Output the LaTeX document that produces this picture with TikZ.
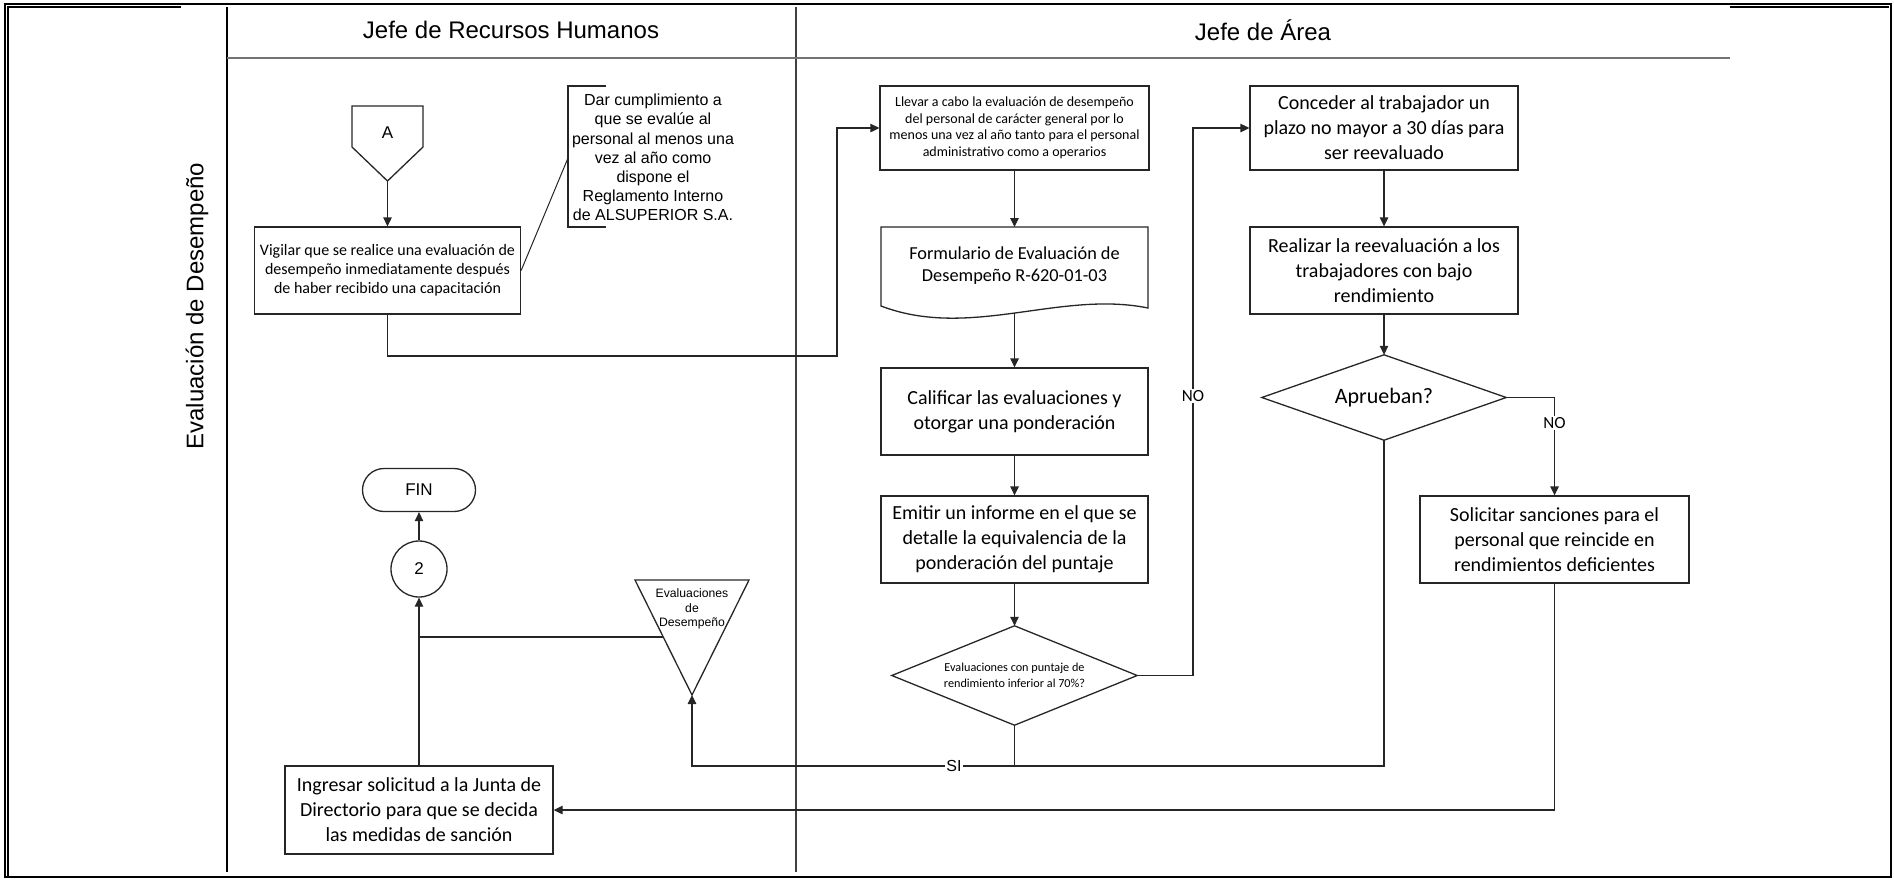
\documentclass[tikz,border=0pt]{standalone}
\usepackage{fontspec}
\setmainfont{Liberation Sans}
\newfontfamily\calib{Carlito}
\usetikzlibrary{arrows.meta}

\begin{document}
\begin{tikzpicture}[x=1pt,y=-1pt,
  box/.style={draw=black!85, line width=1.3pt, fill=white, inner sep=0pt, align=center,
              font=\calib\fontsize{20}{25}\selectfont},
  outline/.style={draw=black!85, line width=1.3pt},
  flow/.style={draw=black!85, line width=1.3pt, -{Triangle[length=9pt,width=8.5pt]}},
  link/.style={draw=black!85, line width=1.3pt},
  lbl/.style={fill=white, inner sep=1.5pt, font=\calib\fontsize{17}{17}\selectfont},
  hdr/.style={font=\fontsize{24}{28}\selectfont},
  plain/.style={inner sep=0pt, align=center},
]
\useasboundingbox (0,0) rectangle (1894,879);

% page frame
\draw[line width=2.5pt] (5,4) -- (1891,4) -- (1891,877) -- (5,877) -- cycle;
\draw[line width=1.2pt] (8,876) -- (8,7) -- (181,7);
\draw[line width=1.2pt] (1730,7) -- (1889,7);

% swimlanes
\draw[line width=1.5pt] (227,7) -- (227,872);
\draw[line width=1.2pt, black!75] (796,7) -- (796,872);
\draw[line width=2pt, black!55] (227,58) -- (1730,58);
\node[hdr] (lane1) at (511,30) {Jefe de Recursos Humanos};
\node[hdr] (lane2) at (1263,30) {Jefe de Área};
\node[hdr, rotate=90] (proc) at (197,306) {Evaluación de Desempeño};

% off-page connector A
\draw[outline] (352,106) -- (423,106) -- (423,147) -- (387.5,181) -- (352,147) -- cycle;
\node[plain, font=\fontsize{17}{20}\selectfont] (conA) at (387.5,133) {A};
\coordinate (Atip) at (387.5,181);

% Jefe de Recursos Humanos
\node[box, minimum width=266, minimum height=87, font=\calib\fontsize{16}{19}\selectfont]
  (vig) at (387.5,270.5) {Vigilar que se realice una evaluación de\\desempeño inmediatamente después\\de haber recibido una capacitación};

% annotation bracket
\draw[outline, line width=1.1pt] (606,86) -- (568,86) -- (568,227) -- (606,227);
\coordinate (brk) at (568,158);
\node[plain, font=\fontsize{16}{19.2}\selectfont] (note) at (653,157.5)
  {Dar cumplimiento a\\que se evalúe al\\personal al menos una\\vez al año como\\dispone el\\Reglamento Interno\\de ALSUPERIOR S.A.};
\draw[link, line width=1pt] (vig.east) -- (brk);

% Jefe de Área, first column
\node[box, minimum width=269, minimum height=84, font=\calib\fontsize{14}{16.5}\selectfont]
  (llev) at (1014.5,128) {Llevar a cabo la evaluación de desempeño\\del personal de carácter general por lo\\menos una vez al año tanto para el personal\\administrativo como a operarios};

% document shape
\draw[outline, fill=white] (881,227) -- (1148,227) -- (1148,308)
   .. controls (1060,290) and (970,340) .. (881,306) -- cycle;
\node[plain, font=\calib\fontsize{18.3}{22}\selectfont] (form) at (1014.5,266)
  {Formulario de Evaluación de\\Desempeño R-620-01-03};
\coordinate (formtop) at (1014.5,227);
\coordinate (formbot) at (1014.5,313);

\node[box, minimum width=267, minimum height=87] (calif) at (1014.5,411.5)
  {Calificar las evaluaciones y\\otorgar una ponderación};
\node[box, minimum width=267, minimum height=87] (emit) at (1014.5,539.5)
  {Emitir un informe en el que se\\detalle la equivalencia de la\\ponderación del puntaje};

\node[plain, minimum width=245, minimum height=99, font=\calib\fontsize{12.2}{15.5}\selectfont]
  (dec) at (1014.5,675.5) {Evaluaciones con puntaje de\\rendimiento inferior al 70\%?};
\draw[outline] (dec.north) -- (dec.east) -- (dec.south) -- (dec.west) -- cycle;

% Jefe de Área, second column
\node[box, minimum width=268, minimum height=84] (conc) at (1384,128)
  {Conceder al trabajador un\\plazo no mayor a 30 días para\\ser reevaluado};
\node[box, minimum width=268, minimum height=87] (reev) at (1384,270.5)
  {Realizar la reevaluación a los\\trabajadores con bajo\\rendimiento};
\node[plain, minimum width=244, minimum height=85, font=\calib\fontsize{22}{26}\selectfont]
  (apr) at (1384,397.5) {Aprueban?};
\draw[outline] (apr.north) -- (apr.east) -- (apr.south) -- (apr.west) -- cycle;
\node[box, minimum width=269, minimum height=87] (sanc) at (1554.5,539.5)
  {Solicitar sanciones para el\\personal que reincide en\\rendimientos deficientes};

% closing column
\node[box, minimum width=268, minimum height=88] (ingr) at (419,810)
  {Ingresar solicitud a la Junta de\\Directorio para que se decida\\las medidas de sanción};
\node[draw=black!85, line width=1.3pt, circle, minimum size=56, inner sep=0pt,
      font=\fontsize{17}{20}\selectfont] (c2) at (419,569) {2};
\node[draw=black!85, line width=1.3pt, rounded corners=21.5pt, minimum width=113,
      minimum height=43, inner sep=0pt, font=\fontsize{17}{20}\selectfont] (fin) at (419,490) {FIN};

% storage triangle
\draw[outline] (635,580) -- (749,580) -- (692,695) -- cycle;
\node[plain, font=\fontsize{12.2}{14.7}\selectfont] (store) at (692,609)
  {Evaluaciones\\de\\Desempeño};
\coordinate (stip) at (692,695);
\coordinate (sleft) at (663,637);
\coordinate (sjoin) at (419,637);

% routing points
\coordinate (r1) at (837,356);
\coordinate (n1) at (1193,675.5);
\coordinate (j1) at (1014.5,766);

% connectors
\draw[flow] (Atip) -- (vig.north);
\draw[flow] (vig.south) |- (r1) |- (llev.west);
\draw[flow] (llev.south) -- (formtop);
\draw[flow] (formbot) -- (calif.north);
\draw[flow] (calif.south) -- (emit.north);
\draw[flow] (emit.south) -- (dec.north);
\draw[flow] (dec.east) -- (n1) |- (conc.west);
\draw[flow] (conc.south) -- (reev.north);
\draw[flow] (reev.south) -- (apr.north);
\draw[flow] (apr.east) -| (sanc.north);
\draw[link] (apr.south) |- (j1);
\draw[flow] (dec.south) -- (j1) -| (stip);
\draw[flow] (sanc.south) |- (ingr.east);
\draw[link] (sleft) -- (sjoin);
\draw[flow] (ingr.north) -- (c2.south);
\draw[flow] (c2.north) -- (fin.south);

% connector labels
\node[lbl] (no1) at (1193,396) {NO};
\node[lbl] (no2) at (1554.5,423) {NO};
\node[lbl, font=\fontsize{16}{16}\selectfont] (si) at (954,766) {SI};
\end{tikzpicture}
\end{document}
